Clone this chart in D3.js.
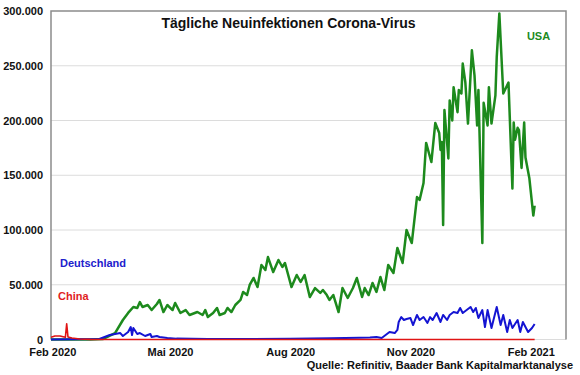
<!DOCTYPE html>
<meta charset="utf-8">
<script src="https://d3js.org/d3.v7.min.js"></script>
<style>
body { margin: 0; background: #fff; }
text { font-family: "Liberation Sans", Arial, sans-serif; font-weight: bold; }
</style>
<div id="chart"></div>
<script>
// data
var usaDates = ["2020-01-31","2020-03-01","2020-03-11","2020-03-20","2020-03-26","2020-03-30","2020-04-03","2020-04-06","2020-04-08","2020-04-10",
  "2020-04-14","2020-04-17","2020-04-21","2020-04-23","2020-04-26","2020-04-29","2020-05-03","2020-05-05","2020-05-09","2020-05-13",
  "2020-05-16","2020-05-22","2020-05-26","2020-05-28","2020-05-30","2020-06-03","2020-06-06","2020-06-08","2020-06-12","2020-06-14",
  "2020-06-17","2020-06-20","2020-06-24","2020-06-26","2020-06-29","2020-07-01","2020-07-04","2020-07-07","2020-07-10","2020-07-13",
  "2020-07-15","2020-07-19","2020-07-23","2020-07-26","2020-07-28","2020-08-02","2020-08-06","2020-08-09","2020-08-12","2020-08-16",
  "2020-08-20","2020-08-24","2020-08-26","2020-08-29","2020-08-31","2020-09-03","2020-09-07","2020-09-10","2020-09-14","2020-09-18",
  "2020-09-21","2020-09-25","2020-09-27","2020-09-30","2020-10-03","2020-10-06","2020-10-09","2020-10-12","2020-10-15","2020-10-19",
  "2020-10-22","2020-10-26","2020-10-29","2020-11-02","2020-11-06","2020-11-08","2020-11-11","2020-11-13","2020-11-17","2020-11-20",
  "2020-11-23","2020-11-24","2020-11-25","2020-11-26","2020-11-27","2020-11-30","2020-12-01","2020-12-03","2020-12-04","2020-12-07",
  "2020-12-08","2020-12-10","2020-12-11","2020-12-13","2020-12-15","2020-12-18","2020-12-20","2020-12-22","2020-12-23","2020-12-26",
  "2020-12-27","2020-12-30","2020-12-31","2021-01-02","2021-01-05","2021-01-06","2021-01-08","2021-01-11","2021-01-15","2021-01-18",
  "2021-01-19","2021-01-20","2021-01-22","2021-01-23","2021-01-25","2021-01-27","2021-01-28","2021-01-31","2021-02-03","2021-02-04"];
var usaValues = [0,0,500,5900,17800,24300,29700,28800,34200,29700,
  31500,26900,32400,36100,25100,31500,26900,33300,24200,26900,
  22400,25100,22400,26900,20500,24200,28800,22400,24200,28800,
  25100,31500,36100,43400,40600,49800,56200,47900,68000,63500,
  75300,61600,72600,66200,69900,47900,58900,52500,58900,38800,
  47000,42500,45200,40600,36100,40600,25100,47000,37900,47000,
  56200,38800,47000,40600,51600,43400,57100,45200,68000,60700,
  83600,69900,100000,88100,130100,127400,142900,179500,162100,197800,
  188600,173100,180400,104600,209600,165300,218300,200000,230400,207600,
  227800,224700,252000,234700,197200,264100,241200,195500,227800,88100,
  216100,195500,230400,197200,223000,257600,297800,224700,234700,137900,
  198200,182400,193300,191300,156700,198200,166200,147000,113200,122300];

var deDates = ["2020-01-31","2020-03-08","2020-03-16","2020-03-24","2020-03-26","2020-03-30","2020-04-01","2020-04-02","2020-04-03","2020-04-06",
  "2020-04-08","2020-04-12","2020-04-16","2020-04-17","2020-04-21","2020-04-23","2020-04-29","2020-05-06","2020-05-30","2020-06-29",
  "2020-08-01","2020-09-01","2020-09-23","2020-10-01","2020-10-06","2020-10-10","2020-10-13","2020-10-16","2020-10-20","2020-10-22",
  "2020-10-23","2020-10-25","2020-10-27","2020-10-29","2020-11-01","2020-11-03","2020-11-06","2020-11-08","2020-11-11","2020-11-14",
  "2020-11-16","2020-11-18","2020-11-21","2020-11-24","2020-11-26","2020-11-29","2020-12-01","2020-12-04","2020-12-07","2020-12-09",
  "2020-12-11","2020-12-14","2020-12-17","2020-12-19","2020-12-21","2020-12-23","2020-12-26","2020-12-28","2020-12-30","2021-01-02",
  "2021-01-06","2021-01-09","2021-01-11","2021-01-14","2021-01-16","2021-01-18","2021-01-22","2021-01-24","2021-01-26","2021-01-30",
  "2021-02-02","2021-02-04"];
var deValues = [0,500,4100,5900,3200,6800,11400,4100,10500,5000,
  5900,3200,5000,2300,3200,2300,1400,800,400,500,
  700,1200,1500,1800,2300,1400,4100,6800,5900,8700,
  16000,20500,17800,18700,19600,13200,22400,17800,20500,15100,
  20500,17800,24200,16000,22400,17800,22400,25100,24200,28800,
  24200,26900,29700,25100,28800,19600,26900,11400,26900,10500,
  29700,13200,22400,6800,17800,10500,17800,6800,16000,6800,
  10500,14200];

var chinaDates = ["2020-01-31","2020-02-03","2020-02-07","2020-02-10","2020-02-11","2020-02-12","2020-02-13","2020-02-16","2020-02-22","2020-03-01",
  "2020-06-01","2020-10-01","2021-02-04"];
var chinaValues = [2000,3200,3200,2300,2000,14300,2300,1400,500,100,
  50,30,50];

var monthTicks = ["2020-02-01","2020-05-01","2020-08-01","2020-11-01","2021-02-01"];
var monthLabels = ["Feb 2020","Mai 2020","Aug 2020","Nov 2020","Feb 2021"];
var yTicks = [0,50000,100000,150000,200000,250000,300000];

var width = 580, height = 375;
var plot = {left: 51, right: 566, top: 11, bottom: 339.5};

var parse = d3.timeParse("%Y-%m-%d");
var de = d3.formatLocale({decimal: ",", thousands: ".", grouping: [3], currency: ["", " €"]});

var svg = d3.select("#chart").append("svg")
  .attr("width", width)
  .attr("height", height);

var x = d3.scaleTime()
  .domain([parse("2020-01-31"), parse("2021-02-28")])
  .range([plot.left, plot.right]);
var y = d3.scaleLinear()
  .domain([0, 300000])
  .range([plot.bottom, plot.top]);

// grid lines
svg.append("g").selectAll("line")
  .data(yTicks.slice(0, -1))
  .enter().append("line")
    .attr("x1", plot.left).attr("x2", plot.right)
    .attr("y1", function(d) { return y(d); })
    .attr("y2", function(d) { return y(d); })
    .attr("stroke", "#dcdcdc")
    .attr("stroke-width", 1);

// frame (top, left, right)
svg.append("path")
  .attr("d", "M" + plot.left + "," + plot.bottom + "V" + plot.top + "H" + plot.right + "V" + plot.bottom)
  .attr("fill", "none")
  .attr("stroke", "#8c8c8c")
  .attr("stroke-width", 1.5);

// y axis labels
var yAxis = svg.append("g")
  .attr("transform", "translate(" + plot.left + ",0)")
  .call(d3.axisLeft(y).tickValues(yTicks).tickSize(0).tickPadding(8).tickFormat(de.format(",")));
yAxis.select(".domain").remove();
yAxis.selectAll("text").attr("font-size", 11).attr("fill", "#111");

// x axis labels
var xAxis = svg.append("g")
  .attr("transform", "translate(0," + plot.bottom + ")")
  .call(d3.axisBottom(x).tickValues(monthTicks.map(parse)).tickSize(0).tickPadding(9)
    .tickFormat(function(d, i) { return monthLabels[i]; }));
xAxis.select(".domain").remove();
xAxis.selectAll("text").attr("font-size", 11).attr("fill", "#111");

var line = d3.line()
  .x(function(d) { return x(d.date); })
  .y(function(d) { return y(d.value); });

function series(dates, values) {
  return dates.map(function(d, i) { return {date: parse(d), value: values[i]}; });
}

svg.append("path")
  .datum(series(usaDates, usaValues))
  .attr("fill", "none")
  .attr("stroke", "#1d8a1d")
  .attr("stroke-width", 2.5)
  .attr("stroke-linejoin", "round")
  .attr("d", line);

svg.append("path")
  .datum(series(deDates, deValues))
  .attr("fill", "none")
  .attr("stroke", "#1414d2")
  .attr("stroke-width", 2)
  .attr("stroke-linejoin", "round")
  .attr("d", line);

svg.append("path")
  .datum(series(chinaDates, chinaValues))
  .attr("fill", "none")
  .attr("stroke", "#e01414")
  .attr("stroke-width", 1.6)
  .attr("stroke-linejoin", "round")
  .attr("d", line);

// title and labels
svg.append("text")
  .attr("x", 288.5).attr("y", 28)
  .attr("text-anchor", "middle")
  .attr("font-size", 14)
  .attr("fill", "#111")
  .text("Tägliche Neuinfektionen Corona-Virus");

svg.append("text")
  .attr("x", 538.5).attr("y", 40)
  .attr("text-anchor", "middle")
  .attr("font-size", 11)
  .attr("fill", "#1d8a1d")
  .text("USA");

svg.append("text")
  .attr("x", 60).attr("y", 267)
  .attr("font-size", 11)
  .attr("fill", "#2020cc")
  .text("Deutschland");

svg.append("text")
  .attr("x", 58).attr("y", 300)
  .attr("font-size", 11)
  .attr("fill", "#e01e1e")
  .text("China");

svg.append("text")
  .attr("x", 573).attr("y", 369)
  .attr("text-anchor", "end")
  .attr("font-size", 11)
  .attr("fill", "#111")
  .text("Quelle: Refinitiv, Baader Bank Kapitalmarktanalyse");
</script>
